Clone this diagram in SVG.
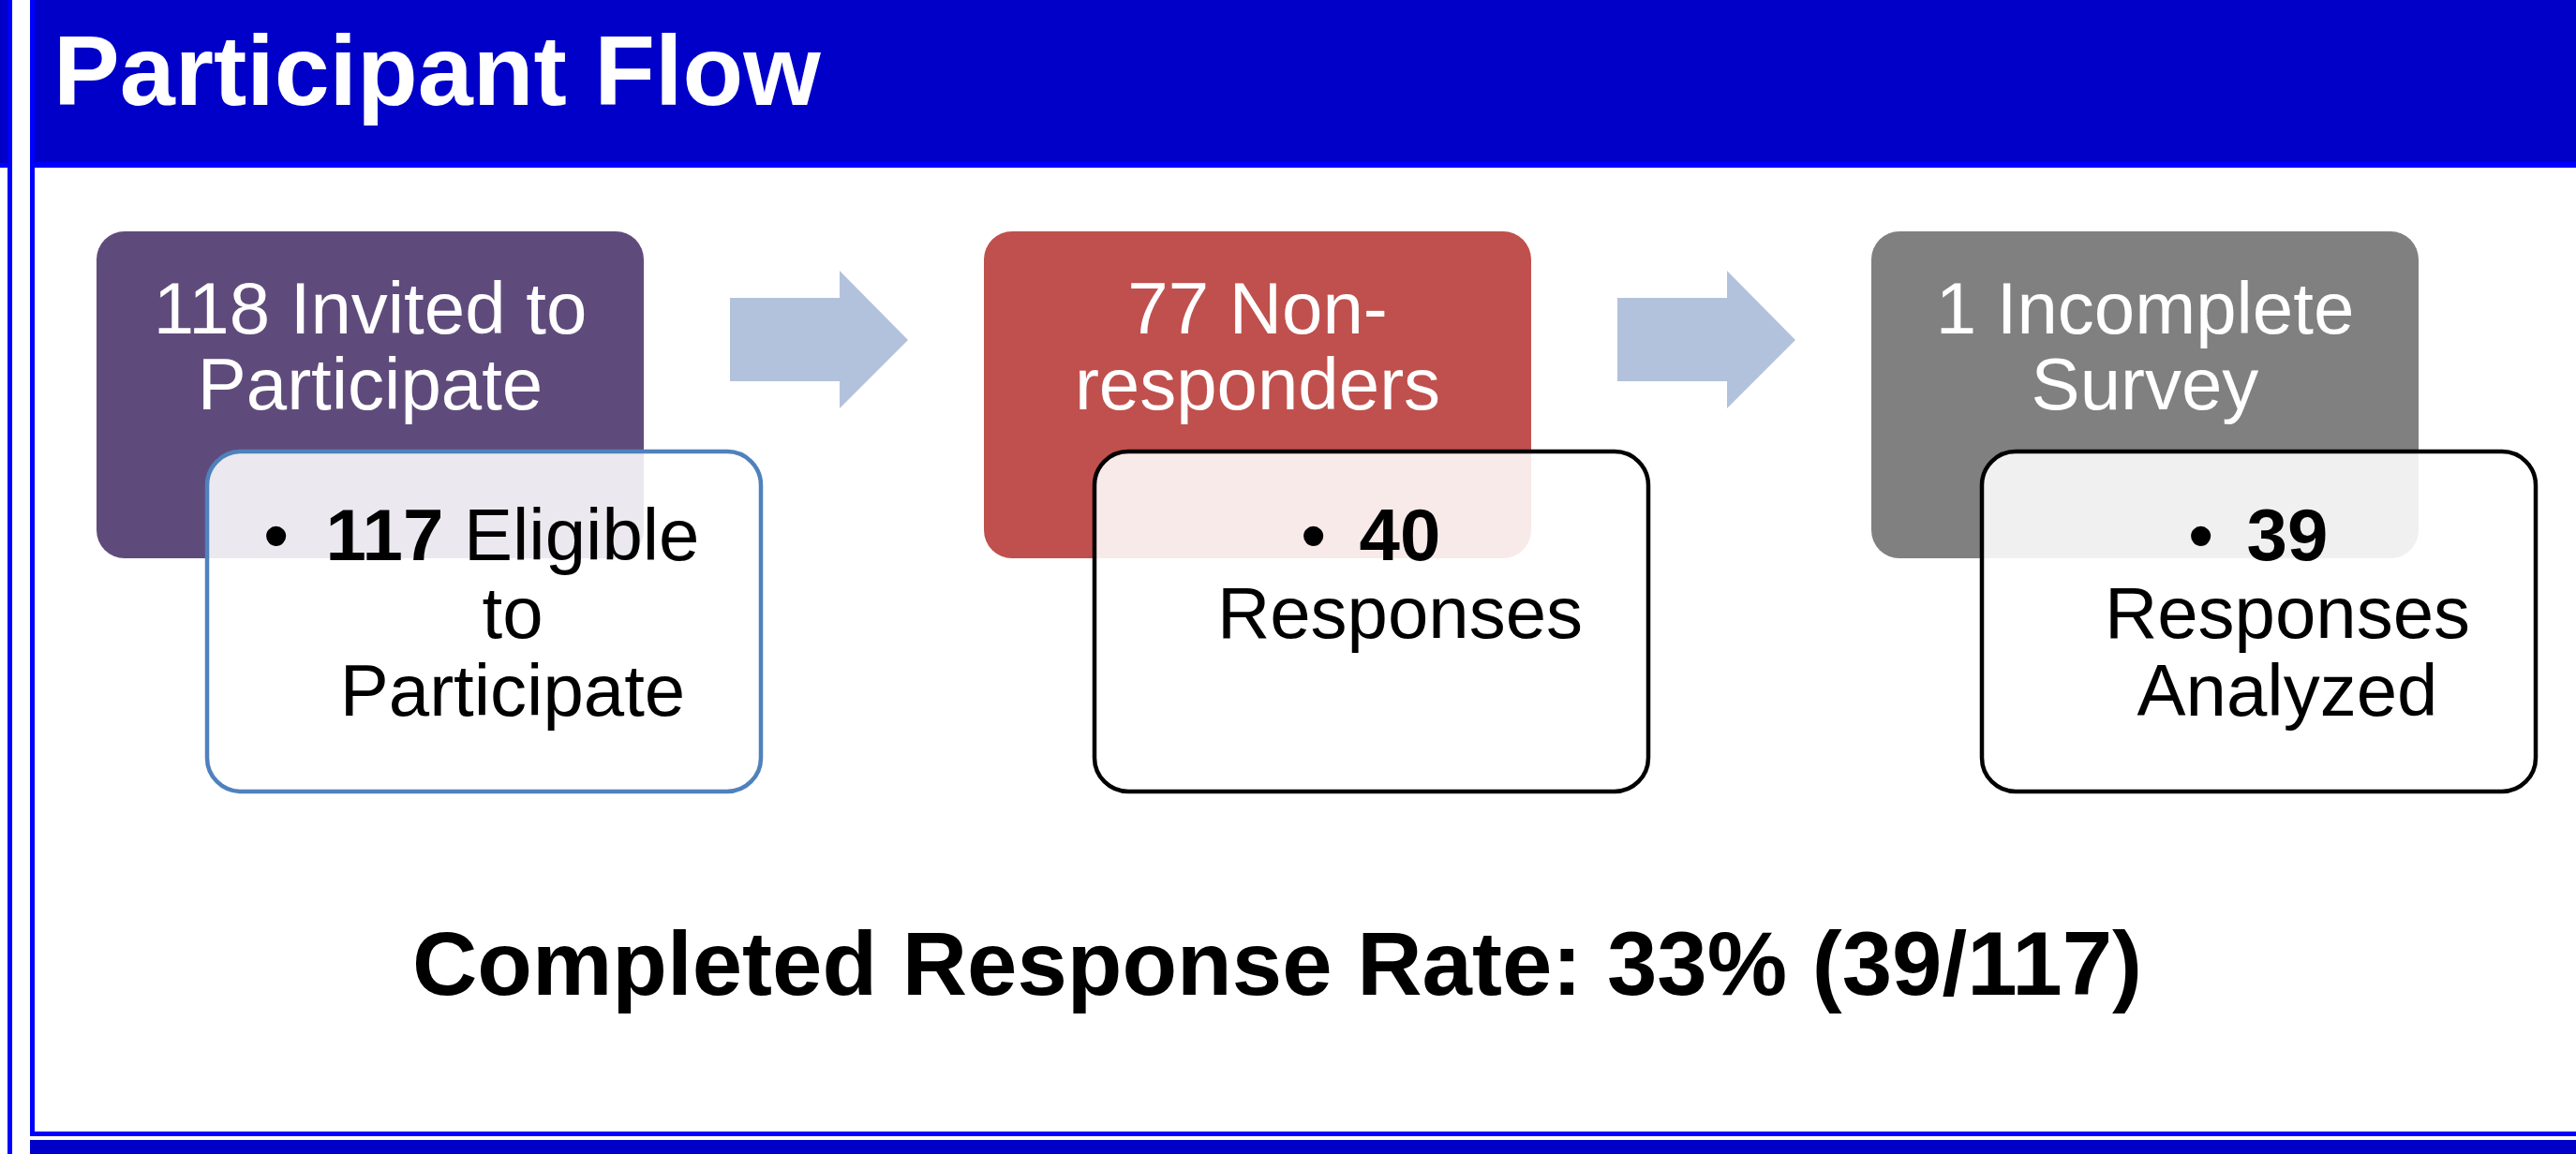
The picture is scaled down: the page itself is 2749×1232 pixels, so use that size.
<svg xmlns="http://www.w3.org/2000/svg" width="2749" height="1232" viewBox="0 0 2749 1232">
<style>
text{font-family:"Liberation Sans",Arial,sans-serif}
.hdr{fill:#0000C8}
.ln{fill:#0000FF}
.top{fill:#FFFFFF;font-size:78px;text-anchor:middle}
.sub{fill:#000000;font-size:78px}
.mid{text-anchor:middle}
.ov{fill:#FFFFFF;fill-opacity:0.88;stroke-width:4.5}
.arrow{fill:#B3C2DC}
</style>
<rect width="2749" height="1232" fill="#FFFFFF"/>
<g id="frame">
<rect class="hdr" x="0" y="0" width="8" height="175"/>
<rect class="hdr" x="37" y="0" width="2712" height="173"/>
<rect class="ln" x="0" y="174" width="8" height="5"/>
<rect class="ln" x="37" y="173" width="2712" height="6"/>
<rect class="ln" x="8" y="0" width="5" height="1232"/>
<rect class="ln" x="32" y="0" width="5" height="1213"/>
<rect class="ln" x="32" y="1208" width="2717" height="5"/>
<rect class="hdr" x="32" y="1217" width="2717" height="15"/>
<text x="57" y="112" font-size="106" font-weight="bold" fill="#FFFFFF">Participant Flow</text>
</g>
<g id="connectors">
<polygon class="arrow" points="779,318 896,318 896,289 969,363 896,436 896,407 779,407"/>
<polygon class="arrow" points="1726,318 1843,318 1843,289 1916,363 1843,436 1843,407 1726,407"/>
</g>
<g id="invited">
<rect x="103" y="247" width="584" height="349" rx="30" fill="#5F4B7B"/>
<text class="top" x="395" y="356">118 Invited to</text>
<text class="top" x="395" y="437">Participate</text>
</g>
<g id="eligible">
<rect class="ov" x="221" y="482" width="591" height="363" rx="36" stroke="#4F81BD"/>
<text class="sub" x="281" y="598">•</text>
<text class="sub mid" x="547" y="598"><tspan font-weight="bold">117</tspan> Eligible</text>
<text class="sub mid" x="547" y="681">to</text>
<text class="sub mid" x="547" y="764">Participate</text>
</g>
<g id="nonresponders">
<rect x="1050" y="247" width="584" height="349" rx="30" fill="#C0504D"/>
<text class="top" x="1342" y="356">77 Non-</text>
<text class="top" x="1342" y="437">responders</text>
</g>
<g id="responses">
<rect class="ov" x="1168" y="482" width="591" height="363" rx="36" stroke="#000000"/>
<text class="sub" x="1388" y="598">•</text>
<text class="sub mid" x="1494" y="598" font-weight="bold">40</text>
<text class="sub mid" x="1494" y="681">Responses</text>
</g>
<g id="incomplete">
<rect x="1997" y="247" width="584" height="349" rx="30" fill="#808080"/>
<text class="top" x="2289" y="356">1 Incomplete</text>
<text class="top" x="2289" y="437">Survey</text>
</g>
<g id="analyzed">
<rect class="ov" x="2115" y="482" width="591" height="363" rx="36" stroke="#000000"/>
<text class="sub" x="2335" y="598">•</text>
<text class="sub mid" x="2441" y="598" font-weight="bold">39</text>
<text class="sub mid" x="2441" y="681">Responses</text>
<text class="sub mid" x="2441" y="764">Analyzed</text>
</g>
<g id="summary">
<text x="1363" y="1062" font-size="96" font-weight="bold" fill="#000000" text-anchor="middle">Completed Response Rate: 33% (39/117)</text>
</g>
</svg>
